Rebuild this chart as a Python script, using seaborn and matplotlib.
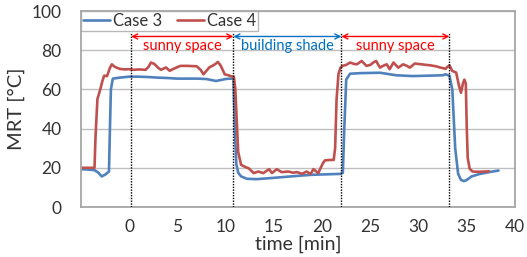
import numpy as np
import pandas as pd
import matplotlib
matplotlib.use("Agg")
import matplotlib.pyplot as plt
import seaborn as sns

# ---- data ----
t3 = [-5, -4.5, -4, -3.6, -3.2, -2.85, -2.5, -2.1, -2.0, -1.9, -1.7, -1.0, 0, 1, 2, 3, 4, 5, 6, 7, 8,
      8.5, 9, 9.5, 10, 10.5, 10.8, 10.95, 11.1, 11.3, 11.6, 12.2, 13.2, 14, 15.3, 17, 18.8, 20, 21.9,
      22.15, 22.3, 22.5, 22.9, 24, 26, 27.7, 29.4, 31, 32.5, 32.8, 33.2, 33.5, 33.8, 34.1, 34.4, 34.7,
      35.0, 35.5, 36.3, 37.3, 38.3]
v3 = [19.2, 19.2, 19.0, 18.8, 17.5, 15.6, 16.5, 18.1, 40, 60, 65.5, 66, 66.5, 66.5, 66.3, 66, 65.8, 65.5, 65.5, 65.5, 65.3,
      64.8, 64.3, 64.8, 65.3, 65.5, 65.5, 40, 22, 17.5, 15.6, 14.4, 14.2, 14.5, 15, 15.7, 16.4, 16.6, 16.9,
      17.5, 40, 65, 68, 68.3, 68.5, 67.2, 66.8, 67, 67.2, 67.7, 67, 60, 30, 17, 13.8, 13.2,
      13.8, 15.6, 16.8, 17.8, 18.6]

t4 = [-5, -4, -3.6, -3.5, -3.3, -3.0, -2.8, -2.6, -2.3, -2.0, -1.8, -1.5, -1.0, -0.5, 0, 0.5, 1, 1.7,
      2.0, 2.25, 2.6, 3.0, 3.3, 3.8, 4.2, 4.6, 5.3, 6.0, 7.0, 7.4, 7.7, 8.3, 8.8, 9.2, 9.5, 9.9, 10.3,
      10.7, 10.85, 11.0, 11.3, 11.6, 12.0, 12.4, 12.9, 13.4, 13.9, 14.5, 14.8, 15.3, 15.8, 16.5, 17.0,
      17.4, 17.9, 18.4, 18.8, 19.1, 19.6, 19.9, 20.1, 20.3, 20.8, 21.2, 21.35, 21.5, 21.7, 21.9, 22.1,
      22.5, 22.9, 23.3, 23.6, 24.1, 24.6, 25.0, 25.3, 25.6, 26.0, 26.3, 26.7, 27.0, 27.4, 27.9, 28.4,
      28.8, 29.1, 29.6, 30.3, 30.8, 31.2, 31.8, 32.3, 32.8, 33.0, 33.2, 33.5, 33.9, 34.2, 34.4, 34.6,
      34.75, 34.9, 35.0, 35.1, 35.3, 35.6, 36, 36.5, 37.3]
v4 = [20, 20, 20, 35, 55, 60, 64, 67, 66.8, 71, 72.8, 71.5, 70.5, 70.2, 70.3, 70, 70.2, 70,
      71.5, 73.7, 73, 71, 70, 71.2, 69.5, 70.5, 72, 72, 71.8, 70, 67.7, 71.2, 72.5, 74, 72, 67.7, 67.2,
      66.5, 66.5, 60, 28, 21.5, 20.5, 19.7, 17.3, 18.1, 17.3, 19.3, 17.3, 19.3, 17.8, 18.1, 17.5,
      17.8, 16.9, 18.1, 16.8, 19.3, 17.3, 20.5, 22.5, 23.8, 24, 24, 30, 55, 68, 71, 72,
      72.5, 73.7, 73, 72.8, 74.5, 72, 72.5, 73.7, 74.5, 71.1, 72, 72.8, 70.3, 73.7, 71.1, 72.8,
      72, 71.1, 73.2, 72.8, 72.5, 72.3, 71.8, 71.1, 70.5, 71.5, 72.3, 69.4, 68.6, 61.7, 58.3, 63,
      65, 63, 40, 25, 19.5, 18.1, 18, 18, 18.2]

zone_bounds = [0.2, 10.8, 22.0, 33.2]
zone_labels = ["sunny space", "building shade", "sunny space"]
zone_colors = ["#FF0000", "#0070C0", "#FF0000"]
series_names = ["Case 3", "Case 4"]
series_colors = ["#4F81BD", "#C0504D"]

assert len(t3) == len(v3) and len(t4) == len(v4)

df = pd.concat([
    pd.DataFrame({"time": t3, "MRT": v3, "case": series_names[0]}),
    pd.DataFrame({"time": t4, "MRT": v4, "case": series_names[1]}),
])

sns.set_theme(style="white")
plt.rcParams["font.family"] = ["Lato", "DejaVu Sans"]
txt = "#333333"

fig = plt.figure(figsize=(5.27, 2.57), dpi=100)
ax = fig.add_axes([81/527, 1-207/257, (515-81)/527, (207-11)/257])

sns.lineplot(data=df, x="time", y="MRT", hue="case", palette=series_colors,
             linewidth=1.9, ax=ax, sort=False, estimator=None)

ax.set_xlim(-5, 40)
ax.set_ylim(0, 100)
ax.set_xticks([0, 5, 10, 15, 20, 25, 30, 35, 40])
ax.set_yticks([0, 20, 40, 60, 80, 100])
ax.yaxis.grid(True, color="#BFBFBF", linewidth=1.0)
ax.set_axisbelow(True)
for s in ax.spines.values():
    s.set_color("#A6A6A6")
    s.set_linewidth(1.3)
ax.tick_params(axis="x", direction="in", length=4, color="#BFBFBF", labelsize=12.5, pad=9, labelcolor=txt)
ax.tick_params(axis="y", length=0, labelsize=12.5, pad=14, labelcolor=txt)
ax.set_xlabel("time [min]", fontsize=14, labelpad=0, color=txt)
ax.set_ylabel("MRT [°C]", fontsize=14.5, labelpad=5, color=txt)

# dotted zone lines
for b in zone_bounds:
    ax.plot([b, b], [0, 89], color="black", linestyle=(0, (1, 1)), linewidth=1.0, zorder=3)

# arrows and labels
for i, (lab, col) in enumerate(zip(zone_labels, zone_colors)):
    x0, x1 = zone_bounds[i], zone_bounds[i+1]
    ax.annotate("", xy=(x1, 87), xytext=(x0, 87),
                arrowprops=dict(arrowstyle="<->", color=col, lw=1.0,
                                shrinkA=0, shrinkB=0, mutation_scale=9))
    ax.text((x0 + x1) / 2, 82.3, lab, color=col, fontsize=10.5, ha="center", va="center")

leg = ax.legend(loc="upper left", bbox_to_anchor=(0, 1), borderaxespad=0, ncol=2,
                frameon=True, fancybox=False, fontsize=12, handlelength=1.6,
                handletextpad=0.2, columnspacing=0.9, borderpad=0.12, title=None)
for t in leg.get_texts():
    t.set_color(txt)
leg.get_frame().set_edgecolor("#A6A6A6")
leg.get_frame().set_linewidth(1.0)

fig.savefig("out.png", dpi=100)
